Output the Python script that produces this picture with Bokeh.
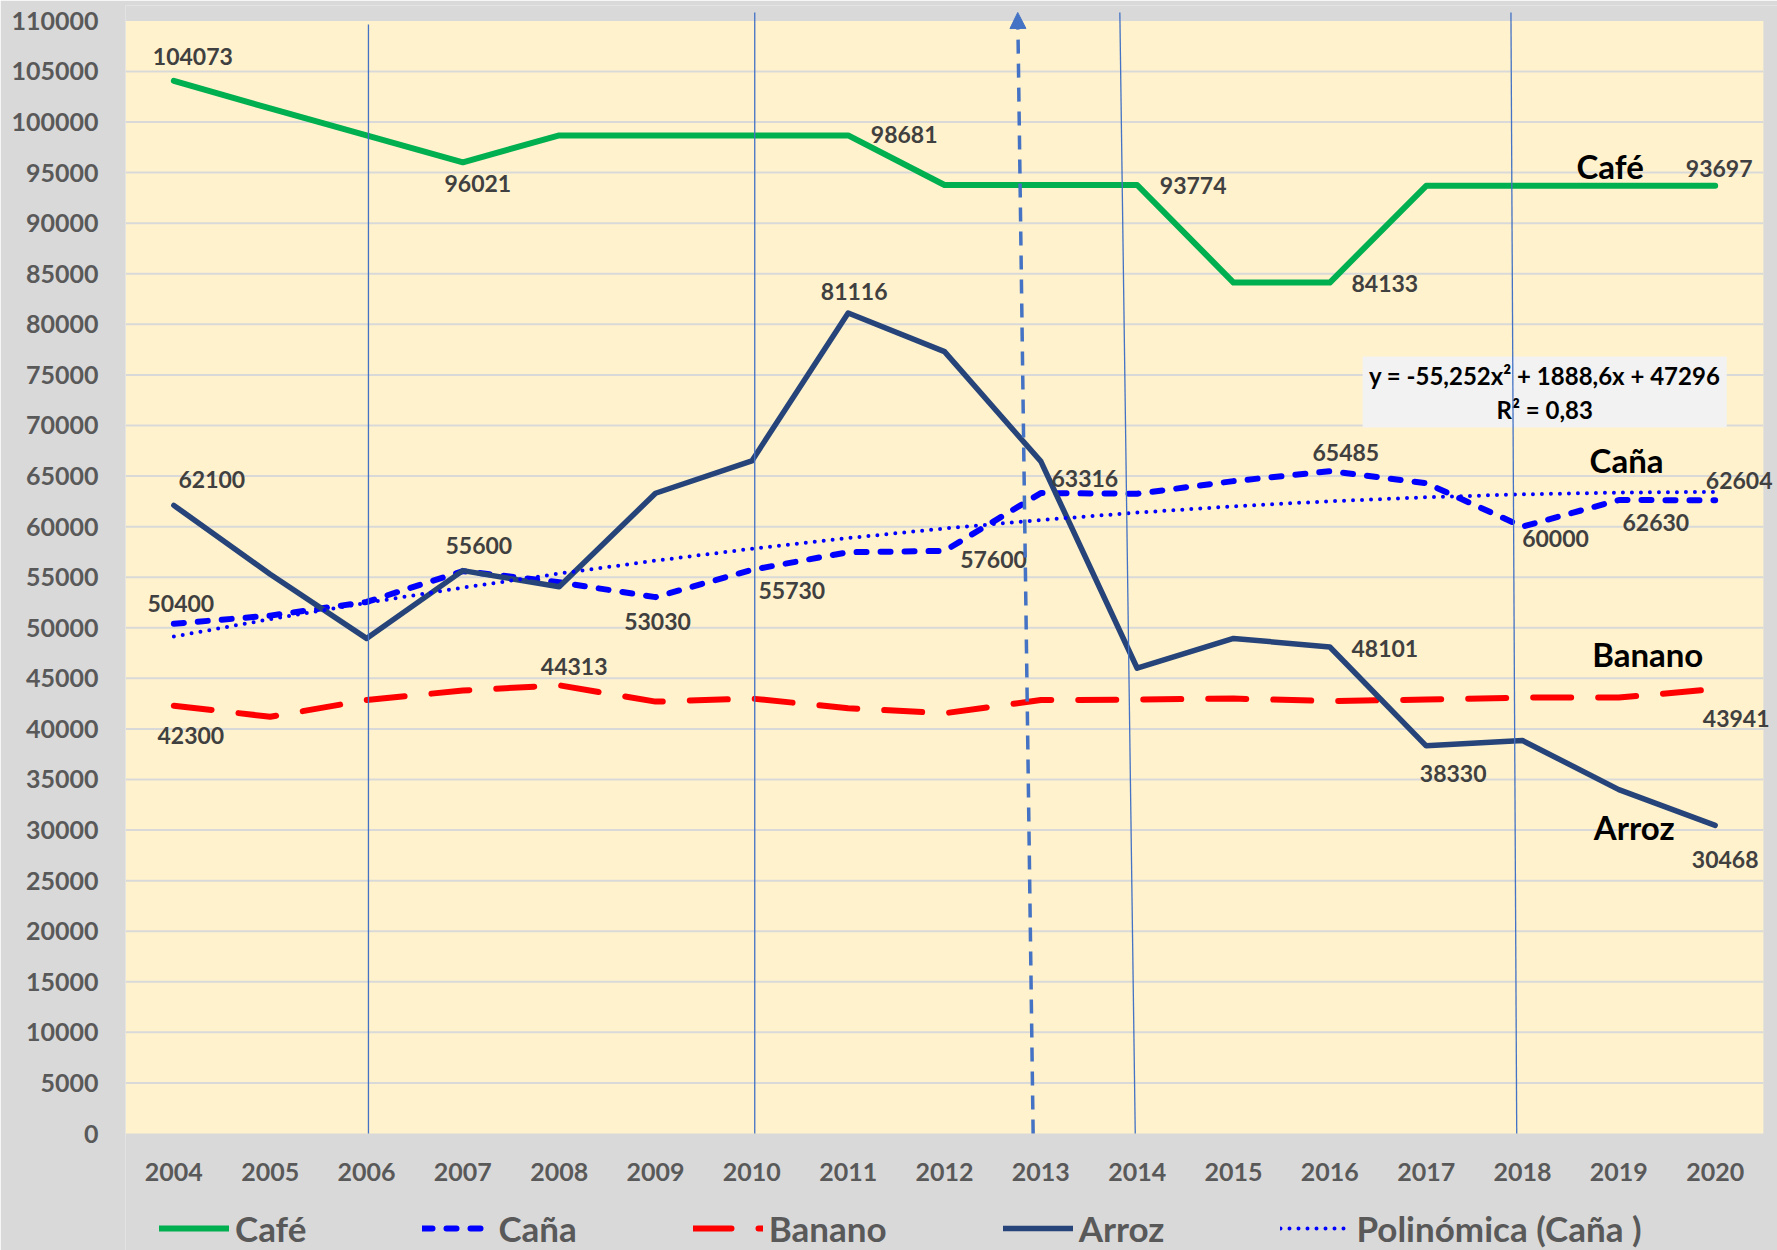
import numpy as np
from bokeh.plotting import figure
from bokeh.models import (ColumnDataSource, FixedTicker, NumeralTickFormatter,
                          Legend, LegendItem, Arrow, NormalHead, Range1d)
from bokeh.core.properties import value
from bokeh.embed import file_html
from bokeh.resources import INLINE

# ---------------- data ----------------
years = list(range(2004, 2021))
cafe = [104073, 101350, 98680, 96021, 98681, 98681, 98681, 98681, 93774, 93774,
        93774, 84133, 84133, 93697, 93697, 93697, 93697]
cana = [50400, 51200, 52550, 55600, 54500, 53030, 55730, 57470, 57600, 63316,
        63250, 64500, 65485, 64300, 60000, 62630, 62604]
banano = [42300, 41200, 42850, 43800, 44313, 42700, 43000, 42050, 41550, 42850,
          42900, 43000, 42750, 42900, 43100, 43100, 43941]
arroz = [62100, 55300, 48950, 55650, 54050, 63300, 66500, 81116, 77300, 66450,
         46000, 48950, 48101, 38330, 38850, 34000, 30468]
trend_coef = [-55.252, 1888.6, 47296]   # y = a x^2 + b x + c, x = 1..17 (from the chart)
trend_eq = "y = -55,252x² + 1888,6x + 47296"
trend_r2 = "R² = 0,83"
y_ticks = list(range(0, 110001, 5000))
legend_labels = ["Café", "Caña", "Banano", "Arroz", "Polinómica (Caña )"]
series_names = ["Café", "Caña", "Banano", "Arroz"]

# which points carry a value label: (index, x offset px, y offset px)
cafe_lab = [(0, 19, -24), (3, 15, 21), (7, 56, -1), (10, 56, 0), (12, 55, 1), (16, 4, -17)]
cana_lab = [(0, 7, -20), (3, 16, -26), (5, 2, 24), (6, 40, 21), (8, 49, 9), (9, 44, -15),
            (12, 16, -19), (14, 33, 12), (15, 37, 22), (16, 24, -20)]
banano_lab = [(0, 17, 30), (4, 15, -19), (16, 21, 29)]
arroz_lab = [(0, 38, -26), (7, 6, -22), (12, 55, 2), (13, 27, 28), (16, 10, 34)]

# annotation placement (data units)
name_pos = [(2018.91, 95700), (2019.08, 66630), (2019.30, 47455), (2019.16, 30351)]
eq_box = dict(left=2016.34, right=2020.12, top=76817, bottom=69797)
eq_text_pos = [(2018.23, 74938), (2018.23, 71626)]
thin_lines = dict(x0=[2006.02, 2010.03, 2013.98, 2017.94], y0=[0, 0, 0, 0],
                  x1=[2006.02, 2010.03, 2013.82, 2017.88], y1=[109640, 110830, 110830, 110830])
arrow_line = dict(x_start=2012.92, y_start=0, x_end=2012.76, y_end=110830)

# ---------------- styles ----------------
BG_OUT = "#d9d9d9"
BG_IN = "#fff2cc"
GRID = "#d9d9d9"
FONT = "Lato"
C_CAFE, C_CANA, C_BAN, C_ARR, C_SHAPE = "#00b050", "#0000ff", "#ff0000", "#26447a", "#4472c4"

x_lo, x_hi = 2003.5, 2020.5

p = figure(width=1777, height=1250,
           x_range=Range1d(2003.498, 2020.647), y_range=Range1d(-11567, 111522),
           output_backend="svg", toolbar_location=None,
           min_border_left=125, min_border_right=0, min_border_top=5, min_border_bottom=0)
p.background_fill_color = BG_OUT
p.border_fill_color = BG_OUT
p.outline_line_color = None
p.xgrid.visible = False
p.ygrid.visible = False

# plot area background and grid
p.quad(left=[x_lo], right=[x_hi], bottom=[0], top=[110000], fill_color=BG_IN, line_color=None)
grid_vals = y_ticks[1:-1]
p.segment(x0=[x_lo] * len(grid_vals), x1=[x_hi] * len(grid_vals), y0=grid_vals, y1=grid_vals,
          line_color=GRID, line_width=2)

# equation box
p.quad(left=[eq_box["left"]], right=[eq_box["right"]], top=[eq_box["top"]],
       bottom=[eq_box["bottom"]], fill_color="#f2f2f2", line_color=None)
p.text(x=[eq_text_pos[0][0], eq_text_pos[1][0]], y=[eq_text_pos[0][1], eq_text_pos[1][1]],
       text=[trend_eq, trend_r2], text_font=value(FONT), text_font_style="bold",
       text_font_size="24px", text_color="#000000", text_align="center", text_baseline="middle")

# series
xs = np.array(years)
xi = np.arange(1, len(years) + 1)
trend = trend_coef[0] * xi ** 2 + trend_coef[1] * xi + trend_coef[2]

r_cafe = p.line(xs, cafe, line_color=C_CAFE, line_width=6, line_join="round", line_cap="round")
r_cana = p.line(xs, cana, line_color=C_CANA, line_width=6, line_dash="10 14",
                line_join="round", line_cap="round")
r_ban = p.line(xs, banano, line_color=C_BAN, line_width=6, line_dash="38 27",
               line_join="round", line_cap="round")
r_arr = p.line(xs, arroz, line_color=C_ARR, line_width=5.5, line_join="round", line_cap="round")
r_trend = p.line(xs, trend, line_color=C_CANA, line_width=4, line_dash="0 9", line_cap="round")

# shapes drawn over the chart
p.segment(x0="x0", y0="y0", x1="x1", y1="y1", source=ColumnDataSource(thin_lines),
          line_color=C_SHAPE, line_width=1.3)
p.add_layout(Arrow(end=NormalHead(size=16, fill_color=C_SHAPE, line_color=C_SHAPE),
                   line_color=C_SHAPE, line_width=3.5, line_dash="14 10", **arrow_line))

# value labels
lx, ly, lt, ldx, ldy = [], [], [], [], []
for series, labs in [(cafe, cafe_lab), (cana, cana_lab), (banano, banano_lab), (arroz, arroz_lab)]:
    for idx, dx, dy in labs:
        lx.append(years[idx]); ly.append(series[idx]); lt.append(str(series[idx]))
        ldx.append(dx); ldy.append(dy)
p.text(x="x", y="y", text="t", x_offset="dx", y_offset="dy",
       source=ColumnDataSource(dict(x=lx, y=ly, t=lt, dx=ldx, dy=ldy)),
       text_font=value(FONT), text_font_style="bold", text_font_size="23px",
       text_color="#404040", text_align="center", text_baseline="middle")

# series names
p.text(x=[a for a, b in name_pos], y=[b for a, b in name_pos], text=series_names,
       text_font=value(FONT), text_font_style="bold", text_font_size="33px",
       text_color="#000000", text_align="center", text_baseline="middle")

# axes
for ax in (p.xaxis[0], p.yaxis[0]):
    ax.axis_line_color = None
    ax.major_tick_line_color = None
    ax.minor_tick_line_color = None
    ax.major_label_text_font = FONT
    ax.major_label_text_font_style = "bold"
    ax.major_label_text_font_size = "25px"
    ax.major_label_text_color = "#595959"
    ax.formatter = NumeralTickFormatter(format="0")
p.yaxis[0].ticker = FixedTicker(ticks=y_ticks)
p.yaxis[0].major_label_standoff = 21
p.xaxis[0].ticker = FixedTicker(ticks=years)
p.xaxis[0].fixed_location = 0
p.xaxis[0].major_label_standoff = 23

# legend
legend = Legend(items=[LegendItem(label=l, renderers=[r]) for l, r in
                       zip(legend_labels, [r_cafe, r_cana, r_ban, r_arr, r_trend])],
                orientation="horizontal", location=(34, 1),
                background_fill_alpha=0, border_line_color=None, padding=0, margin=0,
                spacing=116, glyph_width=70, glyph_height=20, label_standoff=6,
                label_height=20, label_text_line_height=1.0,
                label_text_font=FONT, label_text_font_style="bold",
                label_text_font_size="35px", label_text_color="#595959")
p.add_layout(legend)

open("out.html", "w").write(file_html(p, INLINE))
